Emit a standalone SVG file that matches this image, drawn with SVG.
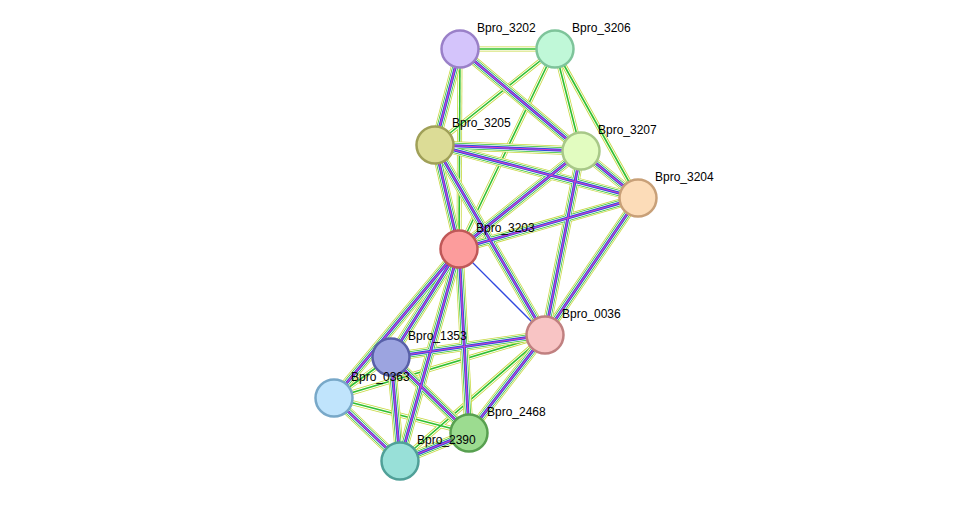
<svg xmlns="http://www.w3.org/2000/svg" xmlns:xlink="http://www.w3.org/1999/xlink" width="976" height="507" viewBox="0 0 976 507">
<style>
.n{stroke-width:2.5}
.t{font-family:"Liberation Sans",Arial,sans-serif;font-size:12px;fill:#000}
use{fill:none}
.y{stroke:#c8d840;stroke-width:9}
.w1{stroke:#fff;stroke-width:7.5}
.g{stroke:#30c030;stroke-width:6}
.w2{stroke:#fff;stroke-width:4.5}
.b{stroke:#3048e0;stroke-width:3}
.m{stroke:#d040c8;stroke-width:1.2}
.ly{stroke:#c8d840;stroke-width:5}
.lw{stroke:#fff;stroke-width:3.4}
.lg{stroke:#30c030;stroke-width:1.6}
</style>
<defs>
<path id="a1" d="M460 49L435 145"/><path id="a2" d="M460 49L581 151"/><path id="a3" d="M435 145L581 151"/>
<path id="a4" d="M435 145L638 198"/><path id="a5" d="M435 145L459 249"/><path id="a6" d="M581 151L638 198"/>
<path id="a7" d="M638 198L459 249"/><path id="a8" d="M581 151L459 249"/><path id="a9" d="M459 249L391 357"/>
<path id="a10" d="M459 249L400 461"/><path id="a11" d="M459 249L469 433"/><path id="a12" d="M459 249L334 398"/>
<path id="a13" d="M545 335L469 433"/><path id="a14" d="M545 335L391 357"/><path id="a15" d="M391 357L400 461"/>
<path id="a16" d="M391 357L469 433"/><path id="a17" d="M334 398L400 461"/><path id="a18" d="M469 433L400 461"/>
<path id="a19" d="M638 198L545 335"/><path id="a20" d="M581 151L545 335"/><path id="a21" d="M435 145L545 335"/>
<path id="b1" d="M460 49L555 49"/><path id="b2" d="M555 49L435 145"/><path id="b3" d="M555 49L581 151"/>
<path id="b4" d="M555 49L638 198"/><path id="b5" d="M555 49L459 249"/><path id="b6" d="M460 49L459 249"/>
<path id="b7" d="M460 49L638 198"/><path id="b8" d="M545 335L334 398"/><path id="b9" d="M545 335L400 461"/>
<path id="b10" d="M391 357L334 398"/><path id="b11" d="M334 398L469 433"/>
</defs>
<g id="connectors">
<g id="lite">
<g class="ly"><use href="#b1"/><use href="#b2"/><use href="#b3"/><use href="#b4"/><use href="#b5"/><use href="#b6"/><use href="#b7"/><use href="#b8"/><use href="#b9"/><use href="#b10"/><use href="#b11"/></g>
<g class="lw"><use href="#b1"/><use href="#b2"/><use href="#b3"/><use href="#b4"/><use href="#b5"/><use href="#b6"/><use href="#b7"/><use href="#b8"/><use href="#b9"/><use href="#b10"/><use href="#b11"/></g>
<g class="lg"><use href="#b1"/><use href="#b2"/><use href="#b3"/><use href="#b4"/><use href="#b5"/><use href="#b6"/><use href="#b7"/><use href="#b8"/><use href="#b9"/><use href="#b10"/><use href="#b11"/></g>
</g>
<path d="M459 249L545 335" stroke="#3048e0" stroke-width="1.3" fill="none"/>
<g id="full">
<g class="y"><use href="#a1"/><use href="#a2"/><use href="#a3"/><use href="#a4"/><use href="#a5"/><use href="#a6"/><use href="#a7"/><use href="#a8"/><use href="#a9"/><use href="#a10"/><use href="#a11"/><use href="#a12"/><use href="#a13"/><use href="#a14"/><use href="#a15"/><use href="#a16"/><use href="#a17"/><use href="#a18"/><use href="#a19"/><use href="#a20"/><use href="#a21"/></g>
<g class="w1"><use href="#a1"/><use href="#a2"/><use href="#a3"/><use href="#a4"/><use href="#a5"/><use href="#a6"/><use href="#a7"/><use href="#a8"/><use href="#a9"/><use href="#a10"/><use href="#a11"/><use href="#a12"/><use href="#a13"/><use href="#a14"/><use href="#a15"/><use href="#a16"/><use href="#a17"/><use href="#a18"/><use href="#a19"/><use href="#a20"/><use href="#a21"/></g>
<g class="g"><use href="#a1"/><use href="#a2"/><use href="#a3"/><use href="#a4"/><use href="#a5"/><use href="#a6"/><use href="#a7"/><use href="#a8"/><use href="#a9"/><use href="#a10"/><use href="#a11"/><use href="#a12"/><use href="#a13"/><use href="#a14"/><use href="#a15"/><use href="#a16"/><use href="#a17"/><use href="#a18"/><use href="#a19"/><use href="#a20"/><use href="#a21"/></g>
<g class="w2"><use href="#a1"/><use href="#a2"/><use href="#a3"/><use href="#a4"/><use href="#a5"/><use href="#a6"/><use href="#a7"/><use href="#a8"/><use href="#a9"/><use href="#a10"/><use href="#a11"/><use href="#a12"/><use href="#a13"/><use href="#a14"/><use href="#a15"/><use href="#a16"/><use href="#a17"/><use href="#a18"/><use href="#a19"/><use href="#a20"/><use href="#a21"/></g>
<g class="b"><use href="#a1"/><use href="#a2"/><use href="#a3"/><use href="#a4"/><use href="#a5"/><use href="#a6"/><use href="#a7"/><use href="#a8"/><use href="#a9"/><use href="#a10"/><use href="#a11"/><use href="#a12"/><use href="#a13"/><use href="#a14"/><use href="#a15"/><use href="#a16"/><use href="#a17"/><use href="#a18"/><use href="#a19"/><use href="#a20"/><use href="#a21"/></g>
<g class="m"><use href="#a1"/><use href="#a2"/><use href="#a3"/><use href="#a4"/><use href="#a5"/><use href="#a6"/><use href="#a7"/><use href="#a8"/><use href="#a9"/><use href="#a10"/><use href="#a11"/><use href="#a12"/><use href="#a13"/><use href="#a14"/><use href="#a15"/><use href="#a16"/><use href="#a17"/><use href="#a18"/><use href="#a19"/><use href="#a20"/><use href="#a21"/></g>
</g>
</g>
<g id="n3202"><circle class="n" cx="460" cy="49" r="18.5" fill="#d4c4fb" stroke="#9a80c8"/><text class="t" x="477" y="32">Bpro_3202</text></g>
<g id="n3206"><circle class="n" cx="555" cy="49" r="18.5" fill="#c0f8d8" stroke="#7ec49a"/><text class="t" x="572" y="32">Bpro_3206</text></g>
<g id="n3205"><circle class="n" cx="435" cy="145" r="18.5" fill="#dcdc96" stroke="#a0a058"/><text class="t" x="452" y="127">Bpro_3205</text></g>
<g id="n3207"><circle class="n" cx="581" cy="151" r="18.5" fill="#e2fcc0" stroke="#a8c888"/><text class="t" x="598" y="134">Bpro_3207</text></g>
<g id="n3204"><circle class="n" cx="638" cy="198" r="18.5" fill="#fcdcb8" stroke="#c8a078"/><text class="t" x="655" y="181">Bpro_3204</text></g>
<g id="n3203"><circle class="n" cx="459" cy="249" r="18.5" fill="#fc9c9c" stroke="#c05858"/><text class="t" x="476" y="232">Bpro_3203</text></g>
<g id="n0036"><circle class="n" cx="545" cy="335" r="18.5" fill="#f8c4c4" stroke="#c08080"/><text class="t" x="562" y="318">Bpro_0036</text></g>
<g id="n1353"><circle class="n" cx="391" cy="357" r="18.5" fill="#9ca4e0" stroke="#5860a8"/><text class="t" x="408" y="340">Bpro_1353</text></g>
<g id="n0363"><circle class="n" cx="334" cy="398" r="18.5" fill="#c0e4fc" stroke="#78a8c8"/><text class="t" x="351" y="381">Bpro_0363</text></g>
<g id="n2468"><circle class="n" cx="469" cy="433" r="18.5" fill="#9cdc90" stroke="#58a050"/><text class="t" x="487" y="416">Bpro_2468</text></g>
<g id="n2390"><circle class="n" cx="400" cy="461" r="18.5" fill="#98e0d8" stroke="#50a098"/><text class="t" x="417" y="444">Bpro_2390</text></g>
</svg>
